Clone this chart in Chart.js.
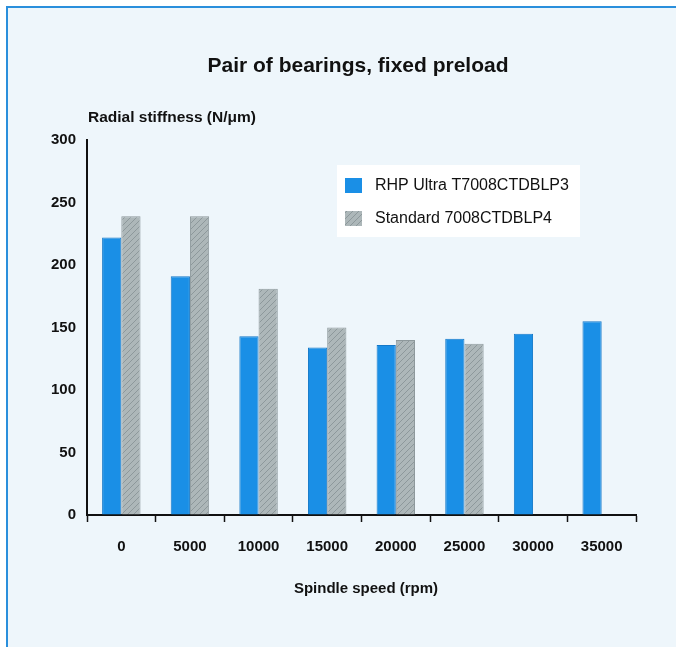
<!DOCTYPE html>
<html>
<head>
<meta charset="utf-8">
<script src="https://cdn.jsdelivr.net/npm/chart.js@4.4.1/dist/chart.umd.min.js"></script>
<style>
  html, body { margin: 0; padding: 0; background: #ffffff; }
  #frame {
    position: absolute; left: 6px; top: 6px; width: 670px; height: 641px;
    background: #eef6fb; border-top: 2px solid #2a8fdc; border-left: 2px solid #2a8fdc;
    box-sizing: border-box;
  }
  #wrap { position: absolute; left: 0; top: 0; width: 676px; height: 647px; }
</style>
</head>
<body>
<div id="frame"></div>
<div id="wrap"><canvas id="chart"></canvas></div>
<script>
const speeds = ['0', '5000', '10000', '15000', '20000', '25000', '30000', '35000']
const rhpUltra = [222, 191, 143, 134, 136, 141, 145, 155]
const standard = [239, 239, 181, 150, 140, 137, null, null]
const yTicks = [0, 50, 100, 150, 200, 250, 300]

const chartTitle = 'Pair of bearings, fixed preload'
const yTitle = 'Radial stiffness (N/\u03bcm)'
const xTitle = 'Spindle speed (rpm)'
const seriesLabels = ['RHP Ultra T7008CTDBLP3', 'Standard 7008CTDBLP4']

const font = '"Liberation Sans", Arial, Helvetica, sans-serif'
const blue = '#1a8fe6'

// hatched grey fill for the standard bearing
const makeHatch = () => {
  const c = document.createElement('canvas')
  c.width = 6; c.height = 6
  const g = c.getContext('2d')
  g.fillStyle = '#adb7b9'
  g.fillRect(0, 0, 6, 6)
  g.strokeStyle = '#8d989b'
  g.lineWidth = 1
  g.beginPath()
  g.moveTo(0, 6); g.lineTo(6, 0)
  g.moveTo(-3, 3); g.lineTo(3, -3)
  g.moveTo(3, 9); g.lineTo(9, 3)
  g.stroke()
  return g.createPattern(c, 'repeat')
}
const hatch = makeHatch()

const textPlugin = {
  id: 'texts',
  beforeDatasetsDraw(chart) {
    const ctx = chart.ctx
    const area = chart.chartArea
    ctx.save()
    ctx.fillStyle = '#111111'
    ctx.textBaseline = 'middle'
    ctx.textAlign = 'center'
    ctx.font = 'bold 21px ' + font
    ctx.fillText(chartTitle, 358, 66)
    ctx.textAlign = 'left'
    ctx.font = 'bold 15.5px ' + font
    ctx.fillText(yTitle, area.left + 1, 118)
    ctx.textAlign = 'center'
    ctx.font = 'bold 15px ' + font
    ctx.fillText(xTitle, 366, 589)

    // legend box
    ctx.fillStyle = '#ffffff'
    ctx.fillRect(337, 165, 243, 72)
    const fills = [blue, hatch]
    seriesLabels.forEach((lab, i) => {
      const y = 178 + i * 33
      ctx.fillStyle = fills[i]
      ctx.fillRect(345, y, 17, 15)
      ctx.fillStyle = '#111111'
      ctx.textAlign = 'left'
      ctx.font = '16px ' + font
      ctx.fillText(lab, 375, y + 8)
    })
    ctx.restore()
  }
}

const config = {
  type: 'bar',
  data: {
    labels: speeds,
    datasets: [
      {
        label: seriesLabels[0],
        data: rhpUltra,
        backgroundColor: blue,
        borderColor: '#1478c8',
        borderWidth: 1,
        categoryPercentage: 0.56,
        barPercentage: 1.0
      },
      {
        label: seriesLabels[1],
        data: standard,
        backgroundColor: hatch,
        borderColor: '#8e999c',
        borderWidth: 1,
        categoryPercentage: 0.56,
        barPercentage: 1.0
      }
    ]
  },
  options: {
    responsive: true,
    maintainAspectRatio: false,
    animation: false,
    layout: { padding: { left: 20, top: 140, right: 40, bottom: 0 } },
    plugins: {
      legend: { display: false },
      title: { display: false },
      tooltip: { enabled: false }
    },
    scales: {
      x: {
        grid: {
          offset: true,
          drawOnChartArea: false,
          color: '#111111',
          tickLength: 7,
          tickWidth: 1.5
        },
        border: { display: true, color: '#111111', width: 2 },
        ticks: {
          color: '#111111',
          padding: 16,
          font: { family: font, size: 15, weight: 'bold' }
        },
        afterFit(scale) { scale.height = 132 }
      },
      y: {
        min: 0,
        max: 300,
        afterBuildTicks(scale) { scale.ticks = yTicks.map(v => ({ value: v })) },
        grid: { drawOnChartArea: false, drawTicks: false },
        border: { display: true, color: '#111111', width: 2 },
        ticks: {
          color: '#111111',
          padding: 11,
          font: { family: font, size: 15, weight: 'bold' }
        },
        afterFit(scale) { scale.width = 67 }
      }
    }
  },
  plugins: [textPlugin]
}

new Chart(document.getElementById('chart'), config)
</script>
</body>
</html>
